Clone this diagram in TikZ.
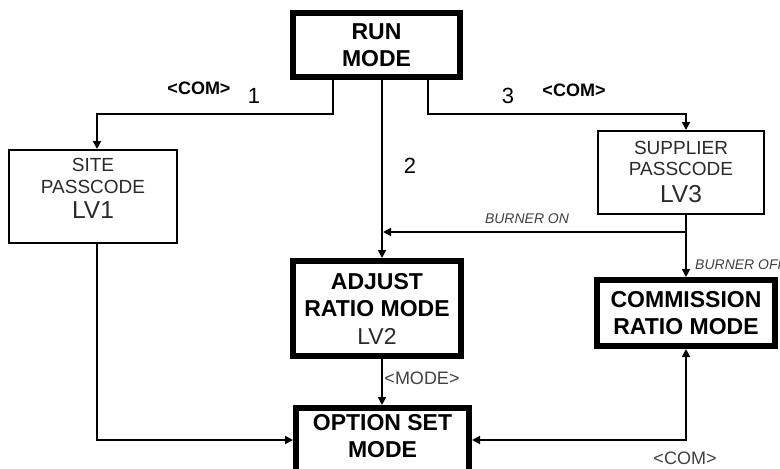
\documentclass[tikz,border=0pt]{standalone}
\usepackage{fontspec}
\setmainfont{Liberation Sans}
\usetikzlibrary{arrows.meta}
\definecolor{lbl}{HTML}{404040}
\definecolor{txt}{HTML}{2A2A2A}
\tikzset{
  thinbox/.style={draw, line width=2pt, align=center, inner sep=0pt,
    font=\fontsize{19}{21.5}\selectfont, text=txt},
  thickbox/.style={draw, line width=6pt, align=center, inner sep=0pt,
    font=\fontsize{23}{27.5}\selectfont\bfseries},
  conn/.style={line width=1.8pt},
  arr/.style={conn, -{Triangle[length=8pt,width=8pt]}},
  darr/.style={conn, {Triangle[length=8pt,width=8pt]}-{Triangle[length=8pt,width=8pt]}},
  boldlbl/.style={font=\fontsize{18}{20}\selectfont\bfseries, inner sep=0pt},
  numlbl/.style={font=\fontsize{22}{24}\selectfont, inner sep=0pt},
  graylbl/.style={font=\fontsize{18}{20}\selectfont, text=lbl, inner sep=0pt},
  itlbl/.style={font=\fontsize{14}{16}\selectfont\itshape, text=lbl, inner sep=0pt}
}
\begin{document}
\begin{tikzpicture}[x=1pt,y=-1pt]
\useasboundingbox (0,0) rectangle (780,469);
\clip (0,0) rectangle (780,469);
\fill[white] (0,0) rectangle (780,469);
% boxes
\node[thickbox, minimum width=167pt, minimum height=64pt] (run) at (376.5,45) {RUN\\MODE};
\node[thinbox, minimum width=168pt, minimum height=93pt, text depth=16pt] (site) at (93,196.5)
  {SITE\\PASSCODE\\[4pt]{\fontsize{24.5}{26}\selectfont LV1}};
\node[thinbox, minimum width=166pt, minimum height=83pt, text depth=2pt] (sup) at (681,172.5)
  {SUPPLIER\\PASSCODE\\[5pt]{\fontsize{24.5}{26}\selectfont LV3}};
\node[thickbox, minimum width=168pt, minimum height=95pt] (adj) at (377,308.5)
  {ADJUST\\RATIO MODE\\{\mdseries\color{txt}LV2}};
\node[thickbox, minimum width=178pt, minimum height=66pt] (com) at (686,313)
  {COMMISSION\\RATIO MODE};
\node[thickbox, minimum width=173pt, anchor=north, inner ysep=6pt, text depth=60pt] (opt) at (382.5,405)
  {OPTION SET\\MODE};
% branch coordinates
\coordinate (b1) at (333,114);
\coordinate (b2) at (382,0);
\coordinate (b3) at (428,114);
\coordinate (bon) at (686,232);
\coordinate (bl) at (97,440);
\coordinate (br) at (686,440);
% connectors
\draw[arr] (run.south -| b1) -- (b1) -| ([xshift=4pt]site.north);
\draw[arr] (run.south -| b2) -- (adj.north -| b2);
\draw[arr] (run.south -| b3) -- (b3) -| ([xshift=5pt]sup.north);
\draw[conn] (sup.south -| bon) -- (bon);
\draw[arr] (bon) -- ([xshift=1pt]bon -| b2);
\draw[arr] (bon) -- (com.north);
\draw[arr] (adj.south -| b2) -- (opt.north -| b2);
\draw[arr] (site.south -| bl) -- (bl) -- (opt.west |- bl);
\draw[darr] (opt.east |- br) -- (br) -- (com.south);
% labels
\node[boldlbl] (l1) at (199,88) {<COM>};
\node[numlbl] (n1) at (254,96) {1};
\node[numlbl] (n2) at (410,166) {2};
\node[numlbl] (n3) at (508,96) {3};
\node[boldlbl] (l3) at (574,90) {<COM>};
\node[itlbl] (bonl) at (527,219) {BURNER ON};
\node[itlbl, anchor=west] (boffl) at (695,265) {BURNER OFF};
\node[graylbl] (model) at (422,378) {<MODE>};
\node[graylbl] (coml) at (685,458) {<COM>};
\end{tikzpicture}
\end{document}
